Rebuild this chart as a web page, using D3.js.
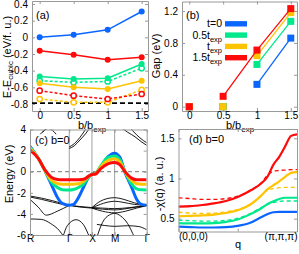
<!DOCTYPE html>
<html>
<head>
<meta charset="utf-8">
<script src="https://cdn.jsdelivr.net/npm/d3@7"></script>
<style>
  body { margin: 0; background: #fff; }
  svg { font-family: "Liberation Sans", Arial, sans-serif; }
  .axis path, .axis line { stroke: #999; }
  .axis text { font-size: 10px; fill: #000; }
  .title { font-size: 11px; }
</style>
</head>
<body>
<svg id="fig" width="299" height="254"></svg>
<script>
/* global d3 */
// ---- (a) total energy vs b/b_exp ----
const bRatio = [0, 0.5, 1, 1.5]
const energyT0 = [0, 0.03, 0.09, 0.31]
const energyT15 = [-0.16, -0.21, -0.27, -0.24]
const energyT05 = [-0.47, -0.5, -0.49, -0.32]
const energyT1 = [-0.55, -0.6, -0.62, -0.52]
const energyT05Open = [-0.52, -0.54, -0.53, -0.37]
const energyT15Open = [-0.64, -0.7, -0.74, -0.68]
const energyT1Open = [-0.74, -0.78, -0.78, -0.63]
const energyRef = -0.79

// ---- (b) gap vs b/b_exp ----
const gapT0 = [0, 0, 0.28, 0.86]
const gapT05 = [0, 0, 0.53, 1.07]
const gapT1 = [0, 0, 0.64, 1.18]
const gapT15 = [0, 0.13, 0.71, 1.23]
const legendLabels = [["t=0", ""], ["0.5t", "exp"], ["t", "exp"], ["1.5t", "exp"]]

// ---- (c) band structure, b=0 ----
const kTicks = [0, 1.732, 2.732, 3.732, 5.146]
const kLabels = ["R", "Γ", "X", "M", "Γ"]
const kGrid = [0, 0.37, 0.65, 0.93, 1.21, 1.42, 1.73, 1.92, 2.14, 2.36, 2.59, 2.73, 2.89, 3.12, 3.43, 3.73, 3.96, 4.18, 4.48, 4.70, 4.92, 5.146]
const bandT0 = [2.40, 1.25, 0.13, -1.15, -2.44, -3.00, -3.17, -3.10, -2.44, -1.47, -0.50, -0.22, -0.13, 0.45, 1.40, 1.76, 1.38, -0.03, -1.47, -2.60, -3.10, -3.17]
const bandT05 = [2.31, 1.25, 0.16, -0.93, -1.50, -1.70, -1.73, -1.68, -1.50, -1.15, -0.51, -0.26, -0.16, 0.54, 1.35, 1.50, 1.15, 0.03, -1.15, -1.62, -1.72, -1.73]
const bandT1 = [2.21, 1.25, 0.16, -0.77, -1.12, -1.18, -1.19, -1.18, -1.15, -0.90, -0.45, -0.26, -0.19, 0.45, 1.06, 1.22, 0.93, 0.03, -0.83, -1.15, -1.19, -1.19]
const bandT15 = [2.05, 1.25, 0.19, -0.51, -0.74, -0.77, -0.77, -0.77, -0.76, -0.72, -0.42, -0.26, -0.22, 0.29, 0.74, 0.87, 0.67, 0.03, -0.61, -0.77, -0.77, -0.77]
// other (black) bands as [k, E] pairs
const otherBands = [
  [[0, -2.30], [0.5, -2.5], [1.0, -2.75], [1.4, -3.0], [1.732, -3.19]],
  [[0, -2.40], [0.5, -2.62], [1.0, -2.88], [1.4, -3.08], [1.732, -3.19]],
  [[0, -2.62], [0.36, -3.35], [0.72, -4.12], [1.2, -3.75], [1.732, -3.19]],
  [[1.732, -3.19], [2.2, -3.3], [2.732, -3.4], [3.2, -3.45], [3.732, -3.5], [4.4, -3.4], [5.146, -3.19]],
  [[1.732, -3.19], [2.2, -3.35], [2.732, -3.45], [3.2, -3.55], [3.732, -3.62], [4.4, -3.45], [5.146, -3.19]],
  [[2.732, -3.4], [3.1, -2.8], [3.4, -2.55], [3.732, -2.46], [4.1, -2.6], [4.6, -2.95], [5.146, -3.19]],
  [[2.732, -3.42], [3.1, -3.1], [3.4, -2.9], [3.732, -2.8], [4.1, -2.9], [4.6, -3.1], [5.146, -3.19]],
  [[2.732, -3.45], [3.2, -3.75], [3.732, -3.9], [4.2, -3.75], [4.7, -3.45], [5.146, -3.22]],
  [[2.95, -6.2], [3.2, -4.8], [3.5, -4.1], [3.732, -3.95], [4.0, -4.2], [4.3, -4.9], [4.6, -6.2]],
  [[2.95, -5.0], [3.3, -5.1], [3.732, -5.18], [4.3, -5.12], [4.8, -5.2], [5.146, -5.5]],
  [[0, -4.48], [0.5, -4.52], [0.9, -4.9], [1.3, -5.6], [1.5, -6.2]],
  [[1.45, -6.2], [1.65, -5.1], [2.03, -4.55], [2.35, -5.0], [2.62, -6.2]],
  [[0.45, 3.55], [0.62, 3.9], [0.8, 4.1], [1.0, 3.9], [1.15, 3.55]],
  [[0.55, 3.75], [0.72, 4.05], [0.9, 4.2], [1.05, 4.05]],
  [[1.732, 2.2], [1.95, 2.45], [2.2, 3.0], [2.45, 3.6], [2.65, 4.2]],
  [[1.732, 2.35], [1.95, 2.65], [2.2, 3.25], [2.4, 3.85], [2.55, 4.3]],
  [[3.95, 4.3], [4.3, 3.75], [4.63, 3.31], [4.9, 2.85], [5.146, 2.5]],
  [[4.35, 4.3], [4.7, 3.5], [5.0, 2.95], [5.146, 2.75]]
]

// ---- (d) susceptibility along (0,0,0)-(pi,pi,pi) ----
const qGrid = [0, 0.1, 0.2, 0.3, 0.4, 0.5, 0.6, 0.7, 0.75, 0.8, 0.85, 0.9, 0.95, 1.0]
const chiT0 = [0.40, 0.395, 0.39, 0.39, 0.395, 0.41, 0.445, 0.52, 0.555, 0.58, 0.585, 0.585, 0.585, 0.585]
const chiT05 = [0.445, 0.44, 0.44, 0.445, 0.46, 0.49, 0.55, 0.63, 0.68, 0.715, 0.745, 0.76, 0.76, 0.76]
const chiT05Dash = [0.48, 0.475, 0.47, 0.47, 0.48, 0.505, 0.56, 0.64, 0.68, 0.70, 0.715, 0.72, 0.72, 0.72]
const chiT1 = [0.53, 0.535, 0.54, 0.55, 0.57, 0.605, 0.67, 0.79, 0.865, 0.915, 0.965, 1.02, 1.07, 1.08]
const chiT1Dash = [0.58, 0.57, 0.565, 0.57, 0.585, 0.615, 0.675, 0.79, 0.855, 0.875, 0.885, 0.89, 0.89, 0.89]
const chiT15 = [0.65, 0.655, 0.67, 0.69, 0.72, 0.77, 0.845, 0.94, 1.02, 1.17, 1.27, 1.40, 1.53, 1.55]
const chiT15Dash = [0.76, 0.75, 0.74, 0.74, 0.75, 0.78, 0.85, 0.95, 1.04, 1.09, 1.10, 1.105, 1.11, 1.11]

const BLUE = "#0a66ff", GREEN = "#00e88c", YELLOW = "#ffc400", RED = "#ff0a0a"

let svg = d3.select("#fig")
let fmt = d => String(+(+d).toFixed(2))

// frame with inward ticks on all four sides, labels on bottom/left
function frame(x, y, o) {
  let [x0, x1] = x.range(), [y0, y1] = y.range()
  let g = svg.append("g")
  let bottom = d3.axisBottom(x).tickValues(o.xTicks).tickSizeInner(-3).tickSizeOuter(0)
    .tickPadding(o.xPad === undefined ? 1 : o.xPad)
    .tickFormat(o.xFormat || fmt)
  g.append("g").attr("class", "axis").attr("transform", "translate(0," + y0 + ")").call(bottom)
  g.append("g").attr("class", "axis").attr("transform", "translate(0," + y1 + ")")
    .call(d3.axisTop(x).tickValues(o.xTicks).tickSizeInner(-3).tickSizeOuter(0).tickFormat(""))
  g.append("g").attr("class", "axis").attr("transform", "translate(" + x0 + ",0)")
    .call(d3.axisLeft(y).tickValues(o.yTicks).tickSizeInner(-3).tickSizeOuter(0).tickPadding(4).tickFormat(fmt))
  g.append("g").attr("class", "axis").attr("transform", "translate(" + x1 + ",0)")
    .call(d3.axisRight(y).tickValues(o.yTicks).tickSizeInner(-3).tickSizeOuter(0).tickFormat(""))
  g.selectAll(".domain").attr("stroke", "#999")
  return g
}

function subText(sel, main, sub, subSize) {
  sel.append("tspan").text(main)
  if (sub) sel.append("tspan").attr("font-size", subSize || 8).attr("dy", 3).text(sub)
}

function yTitle(x, y, parts) {
  let t = svg.append("text").attr("class", "title")
    .attr("transform", "translate(" + x + "," + y + ") rotate(-90)")
    .attr("text-anchor", "middle")
  parts.forEach(p => {
    t.append("tspan").attr("font-size", p.sub ? 8 : 11).attr("dy", p.dy || 0).text(p.t)
  })
  return t
}

function clip(id, x, y) {
  svg.append("clipPath").attr("id", id).append("rect")
    .attr("x", x.range()[0]).attr("y", y.range()[1])
    .attr("width", x.range()[1] - x.range()[0]).attr("height", y.range()[0] - y.range()[1])
}

// ================= (a) =================
{
  let x = d3.scaleLinear().domain([-0.113, 1.593]).range([32, 148])
  let y = d3.scaleLinear().domain([-0.884, 0.436]).range([111, 1])
  frame(x, y, { xTicks: bRatio, yTicks: [-0.8, -0.6, -0.4, -0.2, 0, 0.2, 0.4] })

  svg.append("line").attr("x1", x.range()[0]).attr("x2", x.range()[1])
    .attr("y1", y(energyRef)).attr("y2", y(energyRef))
    .attr("stroke", "#000").attr("stroke-width", 1.8).attr("stroke-dasharray", "5,3")

  let series = [
    { v: energyT1Open, c: YELLOW, open: true },
    { v: energyT15Open, c: RED, open: true },
    { v: energyT05Open, c: GREEN, open: true },
    { v: energyT1, c: YELLOW },
    { v: energyT05, c: GREEN },
    { v: energyT15, c: RED },
    { v: energyT0, c: BLUE }
  ]
  let line = d3.line().x((d, i) => x(bRatio[i])).y(d => y(d))
  series.forEach(s => {
    svg.append("path").attr("d", line(s.v)).attr("fill", "none")
      .attr("stroke", s.c).attr("stroke-width", 1.5)
      .attr("stroke-dasharray", s.open ? "3,2" : null)
    svg.selectAll(null).data(s.v).enter().append("circle")
      .attr("cx", (d, i) => x(bRatio[i])).attr("cy", d => y(d))
      .attr("r", s.open ? 2.6 : 3)
      .attr("fill", s.open ? "#fff" : s.c)
      .attr("stroke", s.c).attr("stroke-width", s.open ? 1.5 : 0)
  })

  svg.append("text").attr("x", 36).attr("y", 19).attr("font-size", 11).text("(a)")
  let xt = svg.append("text").attr("class", "title").attr("x", 92).attr("y", 129).attr("text-anchor", "middle")
  subText(xt, "b/b", "exp")
  yTitle(10.5, 57, [{ t: "E-E" }, { t: "cubic", sub: true, dy: 2.5 }, { t: " (eV/f. u.)", dy: -2.5 }])
}

// ================= (b) =================
{
  let x = d3.scaleLinear().domain([-0.108, 1.592]).range([182, 297])
  let y = d3.scaleLinear().domain([-0.054, 1.319]).range([111, 1.5])
  frame(x, y, { xTicks: bRatio, yTicks: [0, 0.4, 0.8, 1.2] })

  let series = [
    { v: gapT0, c: BLUE }, { v: gapT05, c: GREEN }, { v: gapT1, c: YELLOW }, { v: gapT15, c: RED }
  ]
  let line = d3.line().defined(d => d > 0).x((d, i) => x(bRatio[i])).y(d => y(d))
  series.forEach(s => {
    svg.append("path").attr("d", line(s.v)).attr("fill", "none")
      .attr("stroke", s.c).attr("stroke-width", 1.3)
    svg.selectAll(null).data(s.v).enter().append("rect")
      .attr("x", (d, i) => x(bRatio[i]) - 3.5).attr("y", d => y(d) - 3.5)
      .attr("width", 7).attr("height", 7).attr("fill", s.c)
  })

  svg.append("text").attr("x", 186).attr("y", 19).attr("font-size", 11).text("(b)")
  legendLabels.forEach((lab, i) => {
    let cy = 23.8 + i * 11.3
    let t = svg.append("text").attr("x", 222).attr("y", cy + 3.5).attr("text-anchor", "end").attr("font-size", 10.5)
    subText(t, lab[0], lab[1], 7.5)
    svg.append("rect").attr("x", 225).attr("y", cy - 2.7).attr("width", 22).attr("height", 5.4)
      .attr("fill", series[i].c)
  })
  let xt = svg.append("text").attr("class", "title").attr("x", 240).attr("y", 129).attr("text-anchor", "middle")
  subText(xt, "b/b", "exp")
  yTitle(160, 56, [{ t: "Gap (eV)" }])
}

// ================= (c) =================
{
  let x = d3.scaleLinear().domain([0, 5.146]).range([30, 146.7])
  let y = d3.scaleLinear().domain([-6, 4]).range([235, 129.5])
  clip("clipC", x, y)
  let gc = svg.append("g").attr("clip-path", "url(#clipC)")

  gc.selectAll(null).data(kTicks.slice(1, 4)).enter().append("line")
    .attr("x1", d => x(d)).attr("x2", d => x(d)).attr("y1", y.range()[0]).attr("y2", y.range()[1])
    .attr("stroke", "#888").attr("stroke-width", 0.8)
  gc.append("line").attr("x1", x.range()[0]).attr("x2", x.range()[1]).attr("y1", y(0)).attr("y2", y(0))
    .attr("stroke", "#777").attr("stroke-width", 1).attr("stroke-dasharray", "4,3")

  let pline = d3.line().x(d => x(d[0])).y(d => y(d[1])).curve(d3.curveMonotoneX)
  otherBands.forEach(b => {
    gc.append("path").attr("d", pline(b)).attr("fill", "none").attr("stroke", "#000").attr("stroke-width", 0.9)
  })
  let bline = d3.line().x((d, i) => x(kGrid[i])).y(d => y(d)).curve(d3.curveMonotoneX)
  ;[[bandT0, BLUE], [bandT05, GREEN], [bandT1, YELLOW], [bandT15, RED]].forEach(s => {
    gc.append("path").attr("d", bline(s[0])).attr("fill", "none").attr("stroke", s[1]).attr("stroke-width", 3)
  })

  frame(x, y, { xTicks: kTicks, yTicks: [-6, -4, -2, 0, 2, 4], xFormat: (d, i) => kLabels[i], xPad: -0.5 })
  svg.append("text").attr("x", 35).attr("y", 144).attr("font-size", 11).text("(c) b=0")
  yTitle(13, 174, [{ t: "Energy (eV)" }])
}

// ================= (d) =================
{
  let x = d3.scaleLinear().domain([0, 1]).range([178.5, 297])
  let y = d3.scaleLinear().domain([0.34, 1.616]).range([231.5, 129])
  clip("clipD", x, y)
  let gd = svg.append("g").attr("clip-path", "url(#clipD)")
  let line = d3.line().x((d, i) => x(qGrid[i])).y(d => y(d)).curve(d3.curveMonotoneX)
  let series = [
    { v: chiT05Dash, c: GREEN, dash: true },
    { v: chiT1Dash, c: YELLOW, dash: true },
    { v: chiT15Dash, c: RED, dash: true },
    { v: chiT0, c: BLUE },
    { v: chiT05, c: GREEN },
    { v: chiT1, c: YELLOW },
    { v: chiT15, c: RED }
  ]
  series.forEach(s => {
    gd.append("path").attr("d", line(s.v)).attr("fill", "none").attr("stroke", s.c)
      .attr("stroke-width", s.dash ? 1.3 : 2.2).attr("stroke-dasharray", s.dash ? "4,3" : null)
  })
  let fr = frame(x, y, { xTicks: [0, 0.5, 1], yTicks: [0.5, 1, 1.5], xFormat: d => d === 0 ? "(0,0,0)" : d === 1 ? "(π,π,π)" : "" })
  fr.selectAll("g.tick text").filter(d => d === 0).attr("text-anchor", "start")
  fr.selectAll("g.tick text").filter(d => d === 1).attr("text-anchor", "end")

  svg.append("text").attr("x", 189).attr("y", 143).attr("font-size", 11).text("(d) b=0")
  svg.append("text").attr("class", "title").attr("x", 238).attr("y", 248).attr("text-anchor", "middle").text("q")
  yTitle(163, 184, [{ t: "-χ(q) (a. u.)" }])
}
</script>
</body>
</html>
